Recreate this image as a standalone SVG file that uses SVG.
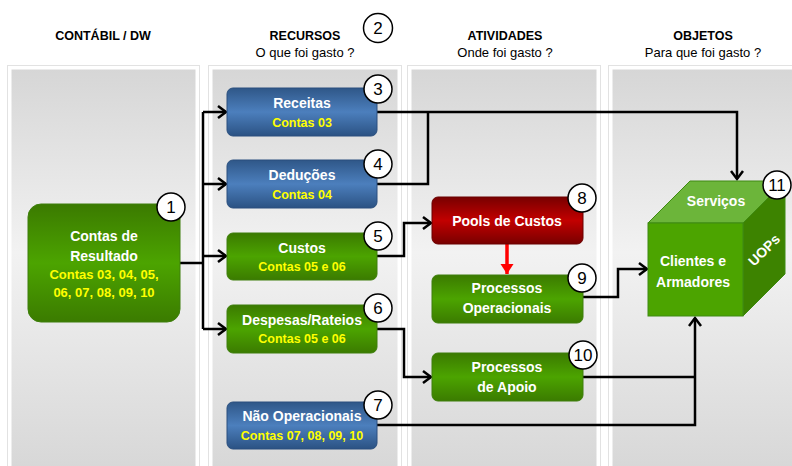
<svg xmlns="http://www.w3.org/2000/svg" width="792" height="466" viewBox="0 0 792 466">
<defs>
  <linearGradient id="lane" x1="0" y1="0" x2="0" y2="1">
    <stop offset="0" stop-color="#d6d6d6"/>
    <stop offset="0.45" stop-color="#f2f2f2"/>
    <stop offset="1" stop-color="#d6d6d6"/>
  </linearGradient>
  <linearGradient id="blue" x1="0" y1="0" x2="0" y2="1">
    <stop offset="0" stop-color="#2f5788"/>
    <stop offset="0.5" stop-color="#4c7fbd"/>
    <stop offset="1" stop-color="#2b5283"/>
  </linearGradient>
  <linearGradient id="green" x1="0" y1="0" x2="0" y2="1">
    <stop offset="0" stop-color="#3b7a00"/>
    <stop offset="0.5" stop-color="#4ca400"/>
    <stop offset="1" stop-color="#3b7b00"/>
  </linearGradient>
  <linearGradient id="red" x1="0" y1="0" x2="0" y2="1">
    <stop offset="0" stop-color="#780000"/>
    <stop offset="0.5" stop-color="#c20000"/>
    <stop offset="1" stop-color="#780000"/>
  </linearGradient>
  <marker id="arr" markerUnits="userSpaceOnUse" markerWidth="14" markerHeight="14" viewBox="-10 -7 12 14" refX="0" refY="0" orient="auto">
    <path d="M-8,-6 L0,0 L-8,6" fill="none" stroke="#000" stroke-width="2.5" stroke-linejoin="miter"/>
  </marker>
  <marker id="redarr" markerUnits="userSpaceOnUse" markerWidth="16" markerHeight="16" viewBox="-12 -8 13 16" refX="0" refY="0" orient="auto">
    <path d="M-10,-6.5 L0,0 L-10,6.5 Z" fill="#ff0000"/>
  </marker>
  <style>
    text { font-family: "Liberation Sans", Arial, sans-serif; }
    .hdr { font-size: 12.5px; font-weight: bold; fill: #000; text-anchor: middle; }
    .sub { font-size: 13px; fill: #000; text-anchor: middle; }
    .w { font-size: 14px; font-weight: bold; fill: #fff; text-anchor: middle; }
    .y { font-size: 12.5px; font-weight: bold; fill: #ffff00; text-anchor: middle; }
    .num { font-size: 17px; fill: #000; text-anchor: middle; }
    .badge { fill: #fff; stroke: #000; stroke-width: 1.5; }
    .lane { fill: url(#lane); stroke: #fff; stroke-width: 3; }
    .laneo { fill: none; stroke: #e2e2e2; stroke-width: 1; }
    .bx-b { fill: url(#blue); stroke: #2a4f7e; stroke-width: 1; }
    .bx-g { fill: url(#green); stroke: #3e7f0c; stroke-width: 1; }
    .bx-r { fill: url(#red); stroke: #6a0000; stroke-width: 1; }
    .con { fill: none; stroke: #000; stroke-width: 2.5; }
  </style>
</defs>
<rect width="792" height="466" fill="#fff"/>

<g id="lanes">
  <rect class="laneo" x="7.5" y="65.5" width="192" height="410"/>
  <rect class="lane" x="10" y="68" width="187" height="410"/>
  <rect class="laneo" x="208.5" y="65.5" width="193" height="410"/>
  <rect class="lane" x="211" y="68" width="188" height="410"/>
  <rect class="laneo" x="407.5" y="65.5" width="193" height="410"/>
  <rect class="lane" x="410" y="68" width="188" height="410"/>
  <rect class="laneo" x="608.5" y="65.5" width="200" height="410"/>
  <rect class="lane" x="611" y="68" width="195" height="410"/>
</g>

<g id="headers">
  <text class="hdr" x="103" y="40">CONTÁBIL / DW</text>
  <text class="hdr" x="305" y="40">RECURSOS</text>
  <text class="sub" x="305" y="57">O que foi gasto ?</text>
  <text class="hdr" x="505" y="40">ATIVIDADES</text>
  <text class="sub" x="505" y="57">Onde foi gasto ?</text>
  <text class="hdr" x="703" y="40">OBJETOS</text>
  <text class="sub" x="703" y="57">Para que foi gasto ?</text>
  <g id="badge2">
    <circle class="badge" cx="378" cy="28" r="14.5"/>
    <text class="num" x="378" y="34">2</text>
  </g>
</g>

<g id="connectors">
  <path class="con" d="M180,263 H203"/>
  <path class="con" d="M203,112 V329"/>
  <path class="con" d="M203,112 H226" marker-end="url(#arr)"/>
  <path class="con" d="M203,184 H226" marker-end="url(#arr)"/>
  <path class="con" d="M203,256 H226" marker-end="url(#arr)"/>
  <path class="con" d="M203,329 H226" marker-end="url(#arr)"/>
  <path class="con" d="M377,112 H737 V179" marker-end="url(#arr)"/>
  <path class="con" d="M377,184 H428 V112"/>
  <path class="con" d="M377,256 H404 V223 H431" marker-end="url(#arr)"/>
  <path class="con" d="M377,329 H404 V377 H431" marker-end="url(#arr)"/>
  <path class="con" d="M377,425 H695 V318" marker-end="url(#arr)"/>
  <path class="con" d="M582,377 H695"/>
  <path class="con" d="M582,297 H618 V269 H647" marker-end="url(#arr)"/>
  <path d="M507,244 V274" fill="none" stroke="#ff0000" stroke-width="3.5" marker-end="url(#redarr)"/>
</g>

<g id="n1">
  <rect class="bx-g" x="28" y="204" width="152" height="118" rx="13"/>
  <text class="w" x="104" y="241">Contas de</text>
  <text class="w" x="104" y="261">Resultado</text>
  <text class="y" x="104" y="279" style="font-size:13px">Contas 03, 04, 05,</text>
  <text class="y" x="104" y="297" style="font-size:13px">06, 07, 08, 09, 10</text>
  <circle class="badge" cx="171" cy="207" r="14"/>
  <text class="num" x="171" y="213">1</text>
</g>

<g id="n3">
  <rect class="bx-b" x="227" y="88" width="150" height="48" rx="6"/>
  <text class="w" x="302" y="108">Receitas</text>
  <text class="y" x="302" y="127">Contas 03</text>
  <circle class="badge" cx="378" cy="89" r="14"/>
  <text class="num" x="378" y="95">3</text>
</g>

<g id="n4">
  <rect class="bx-b" x="227" y="160" width="150" height="48" rx="6"/>
  <text class="w" x="302" y="180">Deduções</text>
  <text class="y" x="302" y="199">Contas 04</text>
  <circle class="badge" cx="378" cy="164" r="14"/>
  <text class="num" x="378" y="170">4</text>
</g>

<g id="n5">
  <rect class="bx-g" x="227" y="233" width="150" height="47" rx="6"/>
  <text class="w" x="302" y="253">Custos</text>
  <text class="y" x="302" y="271">Contas 05 e 06</text>
  <circle class="badge" cx="378" cy="236" r="14"/>
  <text class="num" x="378" y="242">5</text>
</g>

<g id="n6">
  <rect class="bx-g" x="227" y="305" width="150" height="48" rx="6"/>
  <text class="w" x="302" y="325">Despesas/Rateios</text>
  <text class="y" x="302" y="343">Contas 05 e 06</text>
  <circle class="badge" cx="378" cy="308" r="14"/>
  <text class="num" x="378" y="314">6</text>
</g>

<g id="n7">
  <rect class="bx-b" x="227" y="402" width="150" height="47" rx="6"/>
  <text class="w" x="302" y="421">Não Operacionais</text>
  <text class="y" x="302" y="440">Contas 07, 08, 09, 10</text>
  <circle class="badge" cx="378" cy="405" r="14"/>
  <text class="num" x="378" y="411">7</text>
</g>

<g id="n8">
  <rect class="bx-r" x="432" y="197" width="151" height="47" rx="6"/>
  <text class="w" x="507" y="226">Pools de Custos</text>
  <circle class="badge" cx="582" cy="198" r="14"/>
  <text class="num" x="582" y="204">8</text>
</g>

<g id="n9">
  <rect class="bx-g" x="432" y="275" width="151" height="48" rx="6"/>
  <text class="w" x="507" y="293">Processos</text>
  <text class="w" x="507" y="313">Operacionais</text>
  <circle class="badge" cx="582" cy="278" r="14"/>
  <text class="num" x="582" y="284">9</text>
</g>

<g id="n10">
  <rect class="bx-g" x="432" y="353" width="151" height="48" rx="6"/>
  <text class="w" x="507" y="372">Processos</text>
  <text class="w" x="507" y="392">de Apoio</text>
  <circle class="badge" cx="583" cy="355" r="14"/>
  <text class="num" x="583" y="361">10</text>
</g>

<g id="n11">
  <polygon points="648,223 690,181 785,181 743,223" fill="#6cb53a" stroke="#3f8a12" stroke-width="1"/>
  <polygon points="743,223 785,181 785,274 743,316" fill="#3d8300" stroke="#3f8a12" stroke-width="1"/>
  <rect x="648" y="223" width="95" height="93" fill="#4ca400" stroke="#3f8a12" stroke-width="1"/>
  <text class="w" x="716" y="206">Serviços</text>
  <text class="w" x="693" y="266">Clientes e</text>
  <text class="w" x="693" y="287">Armadores</text>
  <text class="w" x="0" y="0" transform="translate(764,250) rotate(-45)" dy="5">UOPs</text>
  <circle class="badge" cx="777" cy="185" r="14"/>
  <text class="num" x="777" y="191">11</text>
</g>
</svg>
